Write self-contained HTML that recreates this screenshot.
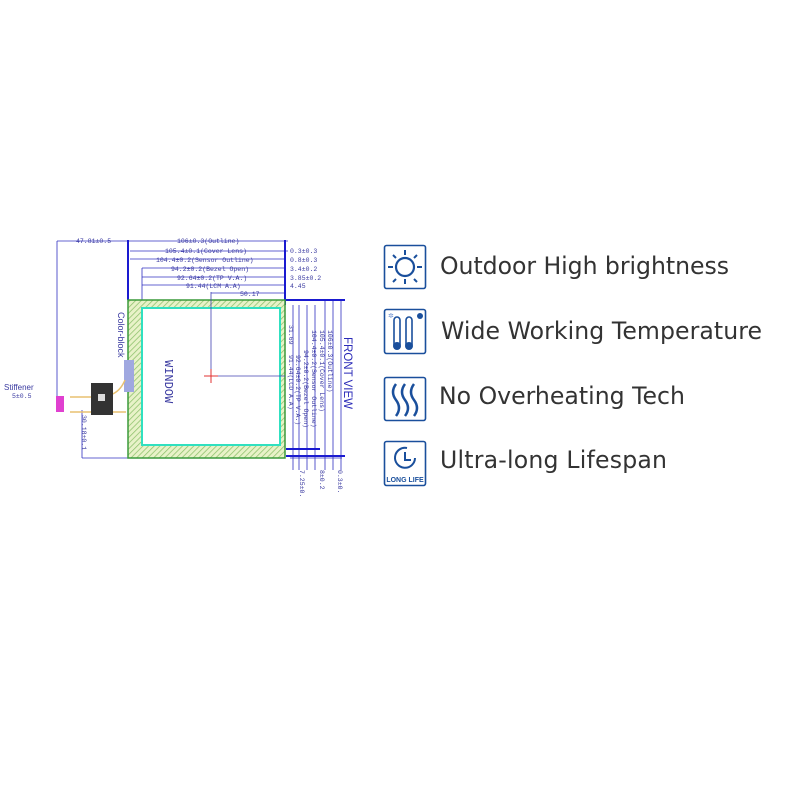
<!DOCTYPE html>
<html><head><meta charset="utf-8"><style>
html,body{margin:0;padding:0;background:#fff;}
body{width:800px;height:800px;position:relative;overflow:hidden;}
svg{position:absolute;left:0;top:0;}
</style></head><body>
<svg width="800" height="800" viewBox="0 0 800 800" xmlns="http://www.w3.org/2000/svg">
<defs>
<pattern id="h" width="4" height="4" patternUnits="userSpaceOnUse" patternTransform="rotate(45)">
<rect width="4" height="4" fill="#e8f2c8"/><line x1="0" y1="0" x2="0" y2="4" stroke="#8cc06a" stroke-width="1.5"/>
</pattern>
</defs>
<g font-family="Liberation Mono, monospace" font-size="6.5" fill="#3a3aa0">
<g stroke="#3030c0" stroke-width="0.8">
<line x1="57" y1="241" x2="128" y2="241"/>
<line x1="128" y1="241" x2="288" y2="241"/>
<line x1="130" y1="251" x2="288" y2="251"/>
<line x1="130" y1="259" x2="286" y2="259"/>
<line x1="142" y1="268" x2="284" y2="268"/>
<line x1="142" y1="277" x2="284" y2="277"/>
<line x1="142" y1="285" x2="284" y2="285"/>
<line x1="211" y1="293" x2="284" y2="293"/>
<line x1="57" y1="241" x2="57" y2="400"/>
<line x1="82" y1="410" x2="82" y2="458"/>
<line x1="82" y1="458" x2="128" y2="458"/>
<line x1="142" y1="268" x2="142" y2="300"/>
<line x1="290" y1="300" x2="342" y2="300"/>
<line x1="290" y1="458" x2="342" y2="458"/>
<line x1="293" y1="305" x2="293" y2="470"/>
<line x1="299" y1="305" x2="299" y2="470"/>
<line x1="307" y1="305" x2="307" y2="470"/>
<line x1="315" y1="305" x2="315" y2="470"/>
<line x1="325" y1="300" x2="325" y2="470"/>
<line x1="333" y1="300" x2="333" y2="470"/>
<line x1="341" y1="300" x2="341" y2="470"/>
</g>
<g stroke="#1a1ad0" stroke-width="2">
<line x1="128" y1="240" x2="128" y2="300"/>
<line x1="285" y1="240" x2="285" y2="305"/>
<line x1="286" y1="449" x2="320" y2="449"/>
<line x1="286" y1="456" x2="345" y2="456"/>
<line x1="286" y1="300" x2="345" y2="300"/>
</g>
<text x="76" y="243">47.81±0.5</text>
<text x="177" y="243">106±0.3(Outline)</text>
<text x="165" y="253">105.4±0.1(Cover Lens)</text>
<text x="156" y="262">104.4±0.2(Sensor Outline)</text>
<text x="171" y="271">94.2±0.2(Bezel Open)</text>
<text x="177" y="280">92.64±0.2(TP V.A.)</text>
<text x="186" y="288">91.44(LCM A.A)</text>
<text x="240" y="296">50.17</text>
<text x="290" y="253">0.3±0.3</text>
<text x="290" y="262">0.8±0.3</text>
<text x="290" y="271">3.4±0.2</text>
<text x="290" y="280">3.85±0.2</text>
<text x="290" y="288">4.45</text>
<text x="4" y="390" font-family="Liberation Sans, sans-serif" font-size="8">Stiffener</text>
<text x="12" y="398">5±0.5</text>
<g transform="translate(300,470) rotate(90)"><text>7.25±0.</text></g>
<g transform="translate(320,470) rotate(90)"><text>8±0.2</text></g>
<g transform="translate(338,470) rotate(90)"><text>0.3±0.</text></g>
<g transform="translate(328,330) rotate(90)"><text>106±0.3(Outline)</text></g>
<g transform="translate(320,330) rotate(90)"><text>105.4±0.1(Cover Lens)</text></g>
<g transform="translate(312,330) rotate(90)"><text>104.4±0.2(Sensor Outline)</text></g>
<g transform="translate(304,350) rotate(90)"><text>94.2±0.2(Bezel Open)</text></g>
<g transform="translate(296,355) rotate(90)"><text>92.64±0.2(TP V.A.)</text></g>
<g transform="translate(289,355) rotate(90)"><text>91.44(LCD A.A)</text></g>
<g transform="translate(289,325) rotate(90)"><text>31.69</text></g>
<g transform="translate(82,415) rotate(90)"><text>30.18±0.1</text></g>
<g transform="translate(344,337) rotate(90)"><text font-family="Liberation Sans, sans-serif" font-size="11.5" fill="#2a2ab8">FRONT VIEW</text></g>
</g>
<rect x="128" y="300" width="157" height="158" fill="url(#h)" stroke="#3a9a3a" stroke-width="1.5"/>
<rect x="142" y="308" width="138" height="137" fill="#fff" stroke="#30e0c0" stroke-width="2"/>
<line x1="211" y1="376" x2="285" y2="376" stroke="#4040b0" stroke-width="0.8"/>
<line x1="211" y1="292" x2="211" y2="376" stroke="#4040b0" stroke-width="0.8"/>
<line x1="204" y1="376" x2="218" y2="376" stroke="#e03030" stroke-width="1"/>
<line x1="211" y1="369" x2="211" y2="383" stroke="#e03030" stroke-width="1"/>
<g transform="translate(165,360) rotate(90)"><text font-family="Liberation Mono, monospace" font-size="12" fill="#3a3aa0">WINDOW</text></g>
<g transform="translate(118,312) rotate(90)"><text font-family="Liberation Sans, sans-serif" font-size="9" fill="#3a3aa0">Color-block</text></g>
<rect x="124" y="360" width="10" height="32" fill="#a0a8e0"/>
<path d="M70 397 H95 M70 412 H95 M110 395 Q120 392 125 380 M110 412 H126" stroke="#e8c070" stroke-width="1.5" fill="none"/>
<rect x="91" y="383" width="22" height="32" fill="#333"/>
<rect x="98" y="394" width="7" height="7" fill="#ddd"/>
<rect x="56" y="396" width="8" height="16" fill="#e040d0"/>
<g fill="none" stroke="#1a4f9c" stroke-width="1.6">
<rect x="384.5" y="245.5" width="41" height="43" rx="2"/>
<rect x="384.5" y="309.5" width="41" height="44" rx="2"/>
<rect x="384.5" y="377.5" width="41" height="43" rx="2"/>
<rect x="384.5" y="441.5" width="41" height="44" rx="2"/>
<circle cx="405" cy="267" r="9" stroke-width="2.2"/>
<path d="M405 250v5M405 279v5M388 267h5M417 267h5M393 255l3 3M414 279l3 3M417 255l-3 3M396 279l-3 3" stroke-width="2"/>
<path d="M394 345v-25a3 3 0 0 1 6 0v25M406 345v-25a3 3 0 0 1 6 0v25" stroke-width="1.6"/>
<path d="M396 384q-6 8 0 16t0 16M405 384q-6 8 0 16t0 16M414 384q-6 8 0 16t0 16" stroke-width="2.5"/>
<path d="M415 458a10 10 0 1 1 -8 -10" stroke-width="2"/>
<path d="M405 452v8h6" stroke-width="2"/>
</g>
<circle cx="397" cy="346" r="4" fill="#1a4f9c"/>
<circle cx="409" cy="346" r="4" fill="#1a4f9c"/>
<circle cx="420" cy="316" r="3" fill="#1a4f9c"/>
<text x="388" y="318" font-size="7" fill="#6a8fd0" font-family="DejaVu Sans, sans-serif">✲</text>
<text x="405" y="482" text-anchor="middle" font-family="Liberation Sans, sans-serif" font-weight="bold" font-size="7" fill="#1a4f9c">LONG LIFE</text>
<g font-family="DejaVu Sans, Liberation Sans, sans-serif" font-size="23.6" fill="#333">
<text x="440" y="274" textLength="289">Outdoor High brightness</text>
<text x="441" y="339" textLength="321">Wide Working Temperature</text>
<text x="439" y="404" textLength="246">No Overheating Tech</text>
<text x="440" y="468" textLength="227">Ultra-long Lifespan</text>
</g>
</svg>
</body></html>
